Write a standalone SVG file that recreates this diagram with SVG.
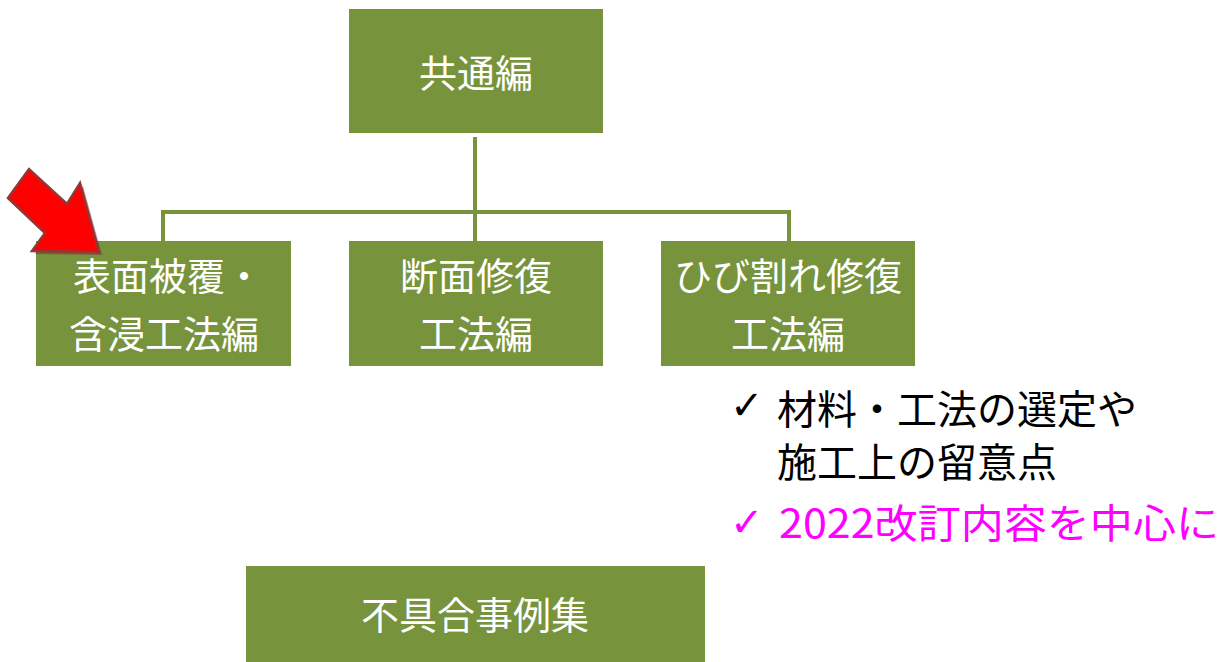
<svg xmlns="http://www.w3.org/2000/svg" width="1227" height="662" viewBox="0 0 1227 662">
<style>
.box{fill:#77933c;}
.conn{stroke:#77933c;stroke-width:4;fill:none;}
.lbl{font-family:"Noto Sans CJK JP","Noto Sans",sans-serif;font-size:38px;fill:#ffffff;text-anchor:middle;}
.note{font-family:"Noto Sans CJK JP","Noto Sans",sans-serif;font-size:40px;}
.chk{font-family:"DejaVu Sans",sans-serif;font-size:40px;font-weight:bold;}
</style>
<rect width="1227" height="662" fill="#ffffff"/>
<g id="connectors">
<path class="conn" d="M475,137 V241 M163,241 V212 H789 V241"/>
</g>
<g id="node-common">
<rect class="box" x="349" y="9" width="254" height="124"/>
<text class="lbl" x="476" y="87">共通編</text>
</g>
<g id="node-surface">
<rect class="box" x="36" y="241" width="255" height="125"/>
<text class="lbl" x="168" y="290">表面被覆・</text>
<text class="lbl" x="164" y="348">含浸工法編</text>
</g>
<g id="node-section">
<rect class="box" x="349" y="241" width="254" height="125"/>
<text class="lbl" x="476" y="290">断面修復</text>
<text class="lbl" x="476" y="348">工法編</text>
</g>
<g id="node-crack">
<rect class="box" x="661" y="241" width="254" height="125"/>
<text class="lbl" x="788" y="290">ひび割れ修復</text>
<text class="lbl" x="788" y="348">工法編</text>
</g>
<g id="node-cases">
<rect class="box" x="246" y="566" width="459" height="100"/>
<text class="lbl" x="475" y="629">不具合事例集</text>
</g>
<g id="arrow">
<polygon points="8,198 29,169 67,204 80,183 99,252 32,251 45,233" fill="#7a2a2a" opacity="0.5" transform="translate(3,3)"/>
<polygon points="8,198 29,169 67,204 80,183 99,252 32,251 45,233" fill="#ff0000" stroke="#943634" stroke-width="2.5" stroke-linejoin="miter"/>
</g>
<g id="notes">
<text class="chk" x="730" y="419" fill="#000000">✓</text>
<text class="note" x="777" y="424" fill="#000000">材料・工法の選定や</text>
<text class="note" x="777" y="477" fill="#000000">施工上の留意点</text>
<text class="chk" x="730" y="536" fill="#ff00ff">✓</text>
<text class="note" x="779" y="538" fill="#ff00ff" textLength="440" lengthAdjust="spacingAndGlyphs">2022改訂内容を中心に</text>
</g>
</svg>
